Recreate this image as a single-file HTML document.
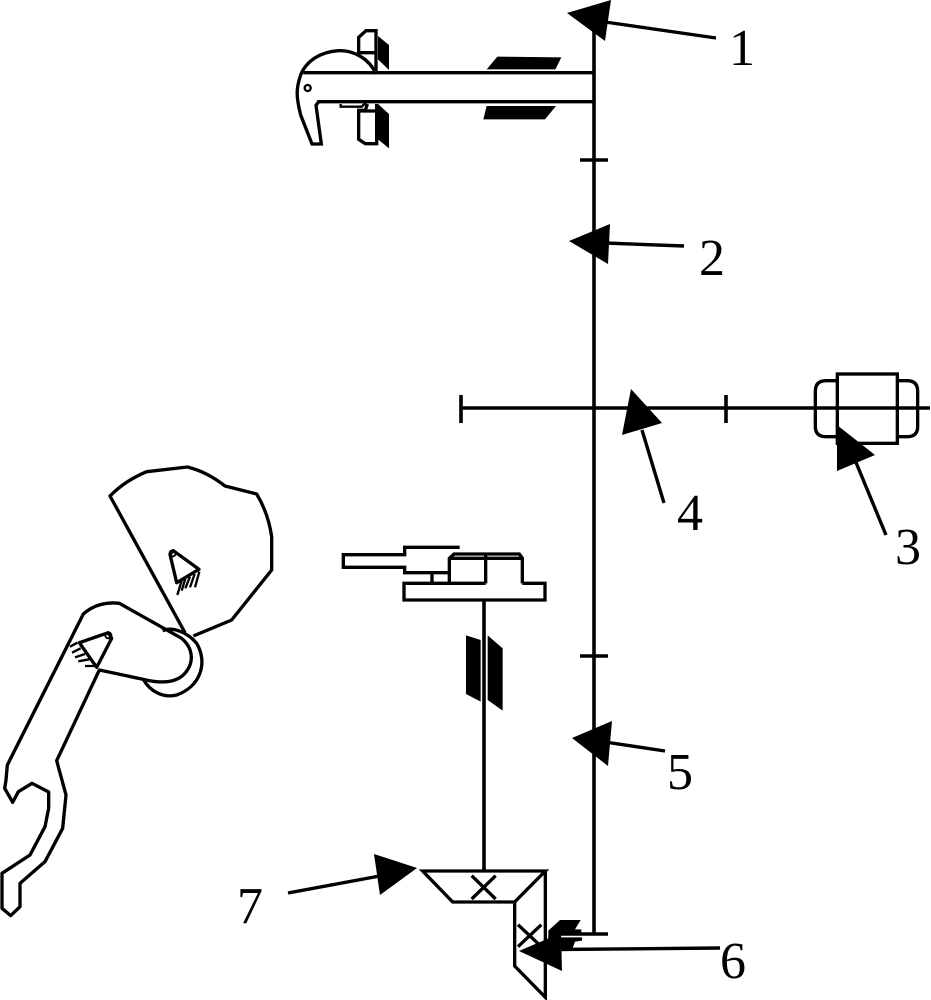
<!DOCTYPE html>
<html><head><meta charset="utf-8"><style>
html,body{margin:0;padding:0;background:#fff}
svg{display:block}
text{font-family:"Liberation Serif",serif;font-size:52px;fill:#000;text-anchor:middle}
</style></head><body>
<svg width="931" height="1000" viewBox="0 0 931 1000" xmlns="http://www.w3.org/2000/svg">
<g fill="none" stroke="#000" stroke-width="3.6" stroke-linejoin="miter">
<!-- main shafts -->
<path d="M594 25V934"/>
<path d="M580 160H608M580 656H608"/>
<path d="M461 408H930M461 395V423M726 395V423"/>
<path d="M561 934H608"/>
<path d="M484 600V872"/>
</g>
<!-- top assembly -->
<g transform="translate(280,0) scale(.33333)" fill="none" stroke="#000" stroke-width="10">
<path d="M70 218H940M112 305H940"/>
<path d="M288 222C270 180 225 150 175 152C125 155 80 180 62 225C48 265 48 290 62 345L96 432H124L108 316L116 305"/>
<circle cx="83" cy="264" r="9" stroke-width="7"/>
<path d="M288 215V92H258L236 112V158H288"/>
<path d="M262 312L256 331H236V418L256 431H290V312"/>
<path d="M182 312V320H245L258 308" stroke-width="7"/>
<path d="M240 333H288"/>
</g>
<g transform="translate(280,0) scale(.33333)" fill="#000">
<polygon points="294,108 327,135 327,210 294,178"/>
<polygon points="294,312 327,342 327,445 294,418"/>
<polygon points="652,170 844,172 826,208 620,208"/>
<polygon points="620,318 828,318 795,358 610,358"/>
</g>
<!-- motor -->
<g transform="translate(780,360) scale(.33333)" fill="none" stroke="#000" stroke-width="10">
<rect x="172" y="42" width="180" height="208"/>
<path d="M172 62H138Q106 62 106 94V200Q106 230 138 230H172M352 62H382Q413 62 413 94V200Q413 230 382 230H352"/>
</g>
<!-- left mechanism -->
<g transform="translate(0,460) scale(.33333)" fill="none" stroke="#000" stroke-width="10" stroke-linejoin="round">
<path d="M555 518L330 108Q375 62 440 35L562 21Q620 35 675 78L770 102Q805 160 815 230V330L695 480L580 528"/>
<path d="M510 283L520 272L597 328L530 368Z"/>
<circle cx="518" cy="280" r="9" stroke-width="6"/>
<path d="M488 512C520 498 565 520 590 550C625 610 600 680 530 705C490 715 450 695 430 658"/>
<path d="M170 902L298 630L430 658C470 668 520 672 550 645C585 610 580 565 545 535L358 430C320 425 280 435 250 462L22 915L18 960L14 985L38 1027L55 995L96 970L146 996V1045L135 1100L90 1185L6 1240V1345L32 1367L60 1340V1270L135 1205L188 1105L198 1005L170 902Z"/>
<path d="M238 548L325 518L335 535L290 622Z"/>
<circle cx="325" cy="526" r="9" stroke-width="6"/>
</g>
<g transform="translate(0,460) scale(.33333)" stroke="#000" stroke-width="7" fill="none">
<path d="M598 335L585 382M584 342L570 382M570 350L556 385M556 356L545 392M545 362L532 405"/>
<path d="M232 548L210 560M242 565L216 578M255 582L225 592M268 598L235 604M285 618L255 618"/>
</g>
<!-- lower assembly -->
<g transform="translate(330,530) scale(.33333)" fill="none" stroke="#000" stroke-width="10">
<path d="M222 160H467M577 160H645V210H222V155"/>
<path d="M358 160V85L372 72H568L577 85V160M358 85H577M467 72V160"/>
<path d="M389 52H224V74H40V112H224V128H358M306 128V160"/>
</g>
<g transform="translate(330,530) scale(.33333)" fill="#000">
<polygon points="408,316 452,330 452,515 408,492"/>
<polygon points="473,316 518,355 518,542 473,510"/>
</g>
<!-- bevel gears -->
<g transform="translate(400,840) scale(.33333)" fill="none" stroke="#000" stroke-width="10">
<path d="M68 93H436L344 186H158Z"/>
<path d="M436 93V472L344 378V186"/>
<path d="M215 107L287 177M287 107L215 177"/>
<path d="M354 254L424 320M424 254L354 320"/>
</g>
<!-- small hatch near 6 -->
<g transform="translate(500,900) scale(.33333)" fill="#000">
<polygon points="180,60 242,60 225,88 244,88 244,104 185,104 145,125 145,92"/>
<polygon points="185,112 246,112 246,122 225,125 215,152 130,152 145,112"/>
</g>
<!-- leader lines -->
<g stroke="#000" stroke-width="3.4" fill="none">
<path d="M605 22L716 38"/>
<path d="M605 243L684 246"/>
<path d="M855 460L886 535"/>
<path d="M642 430L664 503"/>
<path d="M605 742L665 751"/>
<path d="M555 949.500L720 948"/>
<path d="M288 893L385 875"/>
</g>
<!-- arrowheads -->
<g fill="#000">
<polygon points="567,13 611,0 605,41"/>
<polygon points="569,241 610,224 608,264"/>
<polygon points="837,425 875,455 837,471"/>
<polygon points="631,389 662,423 622,435"/>
<polygon points="572,738 612,721 608,766"/>
<polygon points="519,951 561,933 562,971"/>
<polygon points="417,868 374,854 380,895"/>
</g>
<!-- labels -->
<text x="742" y="65">1</text>
<text x="712" y="275">2</text>
<text x="908" y="564">3</text>
<text x="690" y="530">4</text>
<text x="680" y="789">5</text>
<text x="733" y="978">6</text>
<text x="250" y="923">7</text>
</svg>
</body></html>
